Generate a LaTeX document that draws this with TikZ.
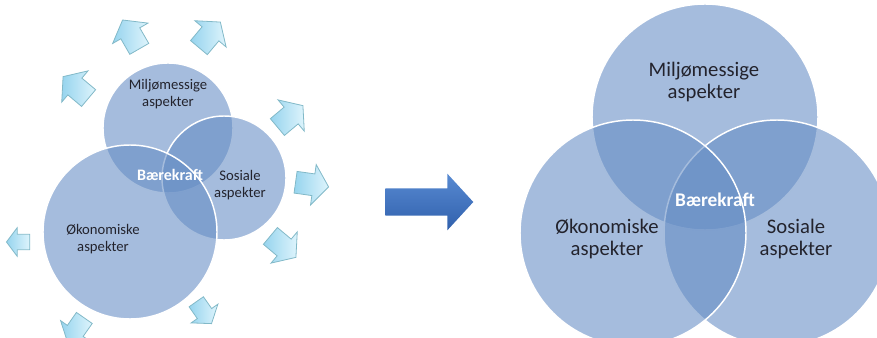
\documentclass[tikz,border=0pt]{standalone}
\usepackage{fontspec}
\setmainfont{Carlito}
\usepackage{tikz}
\usetikzlibrary{shapes.arrows}
\definecolor{venn}{RGB}{100,140,196}
\definecolor{ink}{RGB}{35,35,45}
\definecolor{sparkline}{RGB}{130,185,200}
\definecolor{sparklight}{RGB}{222,244,252}
\definecolor{sparkdark}{RGB}{150,212,238}
\definecolor{bigtop}{RGB}{88,138,210}
\definecolor{bigbot}{RGB}{48,96,172}

\begin{document}
\begin{tikzpicture}[x=0.75pt,y=-0.75pt,
  ring/.style={fill=venn,fill opacity=0.58,draw=white,line width=1.1pt},
  small/.style={font=\fontsize{11}{12.5}\selectfont,text=ink,align=center},
  large/.style={font=\fontsize{15.5}{17}\selectfont,text=ink,align=center},
  spark/.style={single arrow,draw=sparkline,line width=0.6pt,
    left color=sparkdark,right color=sparklight,
    minimum height=25pt,inner xsep=3pt,inner ysep=7.9pt,
    single arrow head extend=7.1pt,single arrow tip angle=106}]
\clip (0,0) rectangle (877,338);
% left hand
\draw[ring] (168,128) circle (65);
\draw[ring] (224,178) circle (62);
\draw[ring] (130,232) circle (87);
\node[small] (miljoL) at (168,94) {Miljømessige\\aspekter};
\node[small] (sosialL) at (240,185) {Sosiale\\aspekter};
\node[small] (okoL) at (103,239) {Økonomiske\\aspekter};
\node[small,text=white,font=\fontsize{12}{13}\selectfont\bfseries] (baereL) at (170,175) {Bærekraft};
% arrows round it
\node[spark,rotate=120] (s1) at (133,38) {};
\node[spark,rotate=50] (s2) at (207,38) {};
\node[spark,rotate=140] (s3) at (79,90) {};
\node[spark,rotate=40] (s4) at (287,119) {};
\node[spark,rotate=-8] (s5) at (308,184) {};
\node[spark,rotate=-40] (s6) at (280,244) {};
\node[spark,rotate=180,scale=0.7] (s7) at (21,242) {};
\node[spark,rotate=-55,scale=0.8] (s8) at (202,310) {};
\node[spark,rotate=-125,scale=0.88] (s9) at (78,327) {};
% the big arrow
\node[single arrow,top color=bigtop,bottom color=bigbot,anchor=tail,
  minimum height=66pt,inner sep=10pt,
  single arrow head extend=11pt,single arrow tip angle=95] (go) at (385,202) {};
% right hand
\draw[ring] (705,117) circle (113);
\draw[ring] (777,233) circle (113);
\draw[ring] (633,233) circle (113);
\node[large] (miljoR) at (704,82) {Miljømessige\\aspekter};
\node[large] (sosialR) at (796,239) {Sosiale\\aspekter};
\node[large] (okoR) at (607,239) {Økonomiske\\aspekter};
\node[large,text=white,font=\fontsize{14.5}{16}\selectfont\bfseries] (baereR) at (715,200) {Bærekraft};
\end{tikzpicture}
\end{document}
